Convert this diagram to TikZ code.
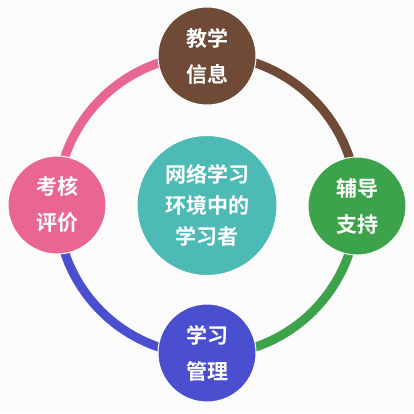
\documentclass[tikz,border=0pt]{standalone}
\usepackage{fontspec}
\newfontfamily\cjk{Noto Sans CJK SC Bold}
\definecolor{bgc}{HTML}{FBFBFB}
\definecolor{cbrown}{HTML}{6E4A37}
\definecolor{cgreen}{HTML}{3CA34A}
\definecolor{cblue}{HTML}{4A4FCF}
\definecolor{cpink}{HTML}{E8668F}
\definecolor{cteal}{HTML}{4DBAB5}
\begin{document}
\begin{tikzpicture}[x=1pt,y=-1pt,
  ring/.style={line width=9pt},
  sat/.style={circle, minimum size=98pt, inner sep=0pt, draw=white, line width=1pt, text=white,
    font=\cjk\fontsize{21}{36}\selectfont, align=center},
  hub/.style={circle, minimum size=140pt, inner sep=0pt, draw=white, line width=1pt, fill=cteal, text=white,
    font=\cjk\fontsize{21}{31}\selectfont, align=center}]
\fill[bgc] (0,0) rectangle (414,413);
\useasboundingbox (0,0) rectangle (414,413);
\coordinate (o) at (207,205);
\draw[ring, cbrown] (o) ++(-90:150) arc[start angle=-90, end angle=0, radius=150];
\draw[ring, cgreen] (o) ++(0:150) arc[start angle=0, end angle=90, radius=150];
\draw[ring, cblue] (o) ++(90:150) arc[start angle=90, end angle=180, radius=150];
\draw[ring, cpink] (o) ++(180:150) arc[start angle=180, end angle=270, radius=150];
\node[hub] (c) at (207,205.5) {网络学习\\环境中的\\学习者};
\node[sat, fill=cbrown] (t) at (207,56) {教学\\信息};
\node[sat, fill=cgreen] (r) at (357,206) {辅导\\支持};
\node[sat, fill=cblue] (b) at (207,353) {学习\\管理};
\node[sat, fill=cpink] (l) at (57,205) {考核\\评价};
\end{tikzpicture}
\end{document}
